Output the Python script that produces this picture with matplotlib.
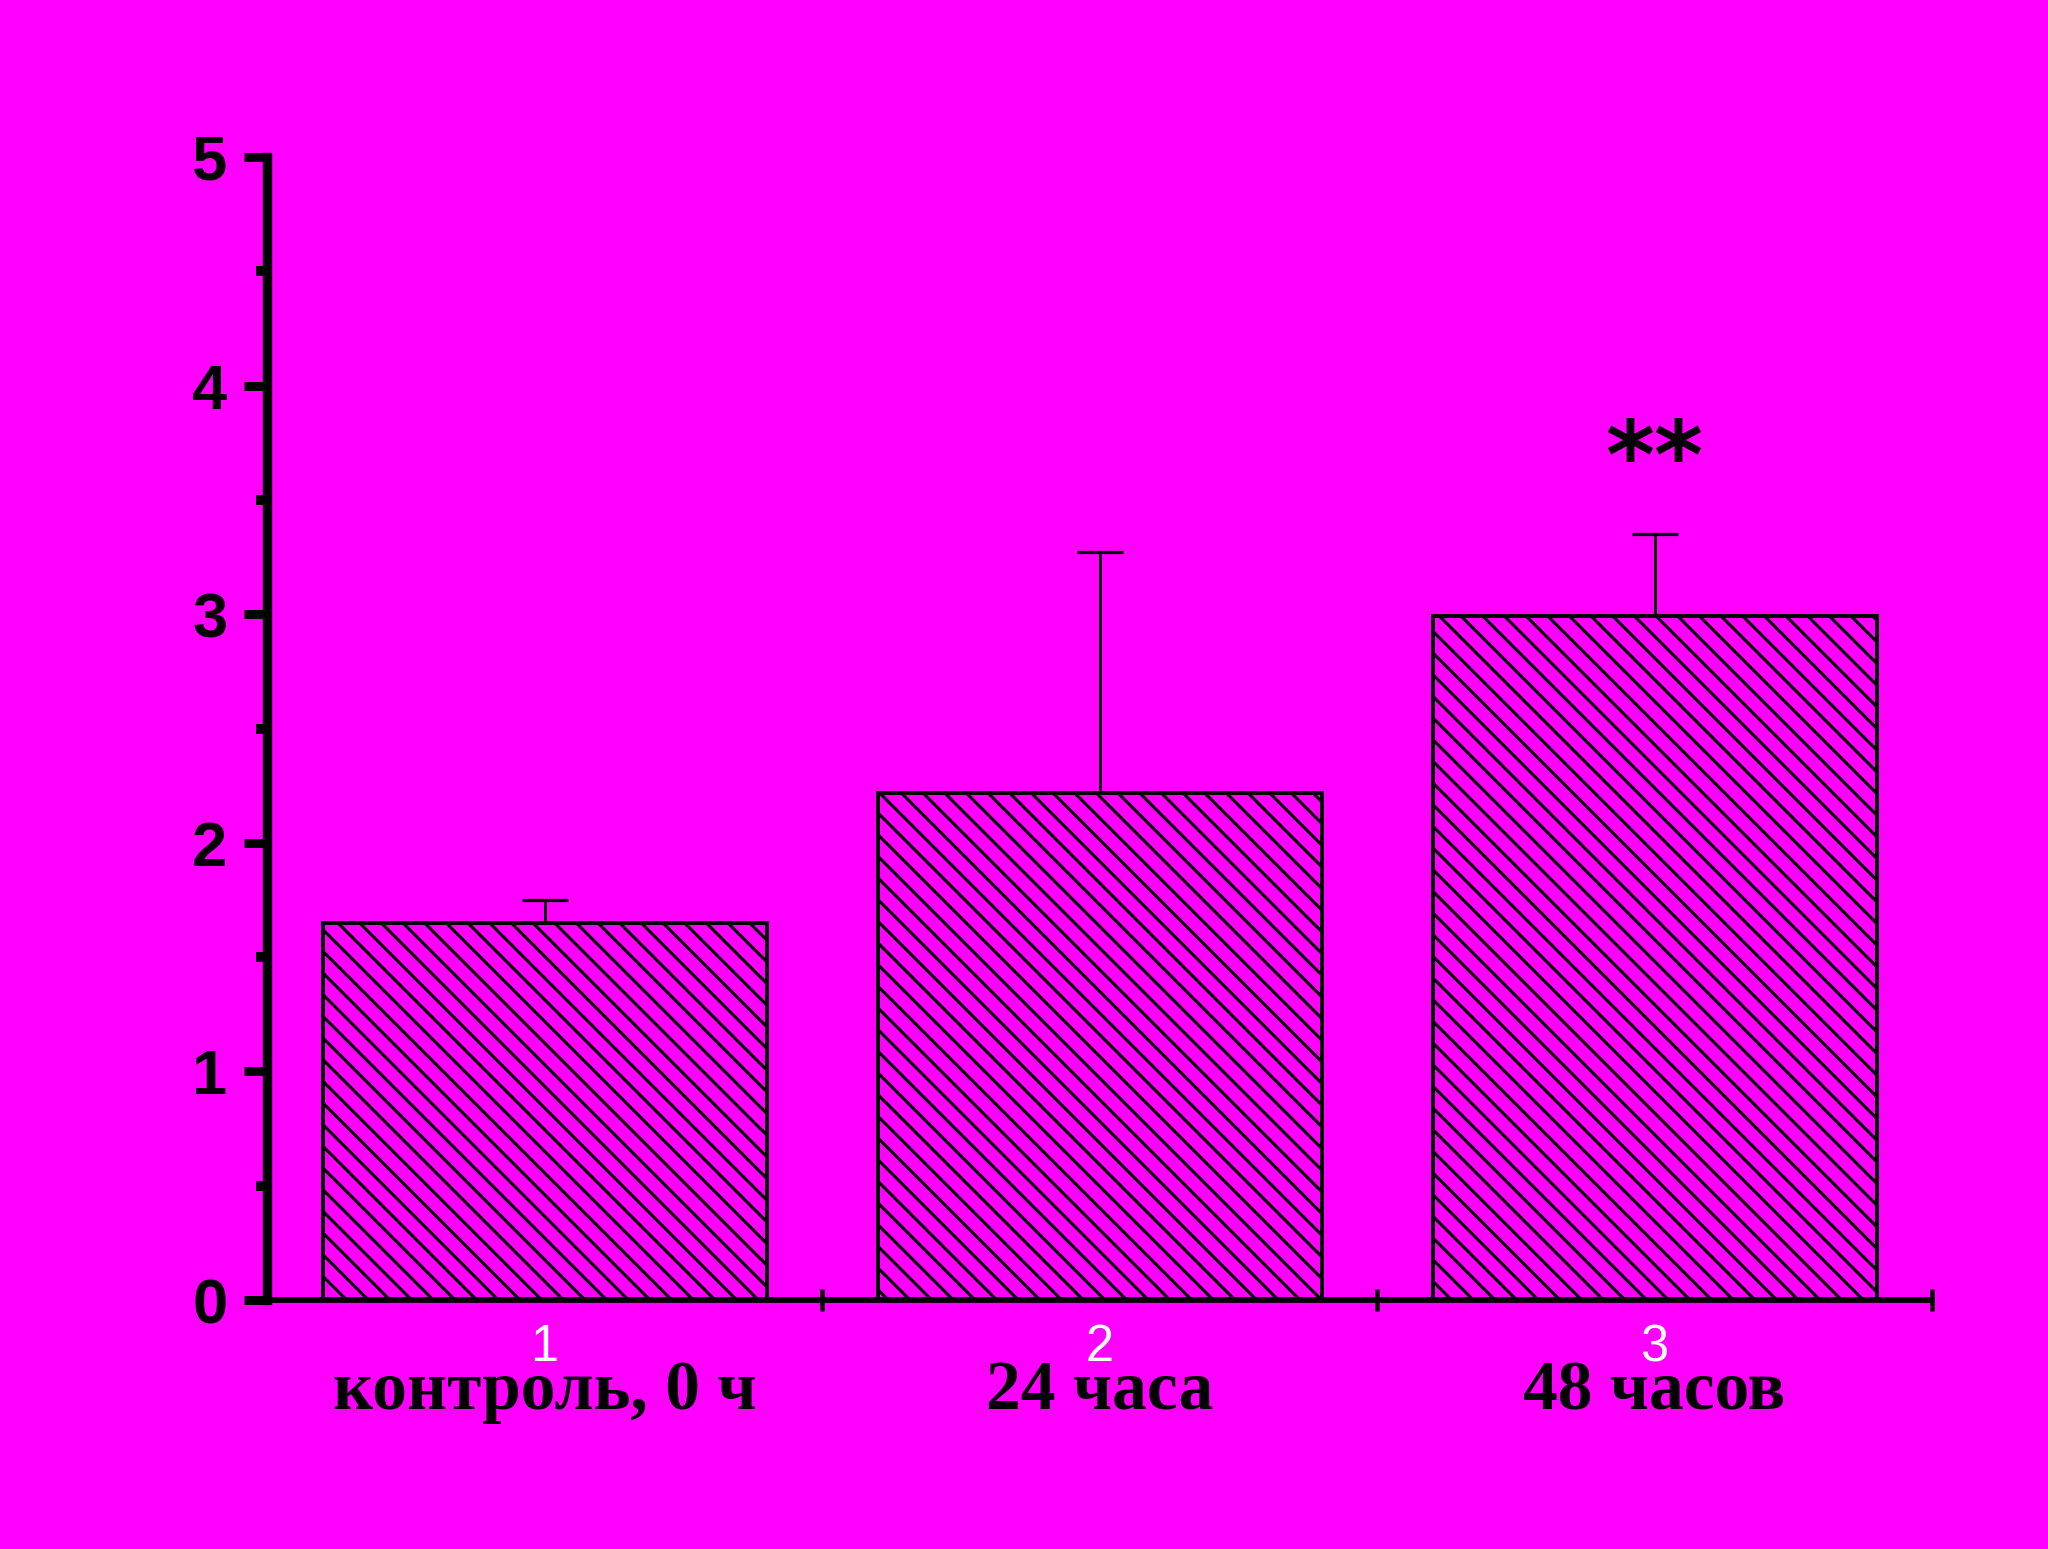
import matplotlib
matplotlib.use("Agg")
import matplotlib.pyplot as plt
import matplotlib.transforms as mtransforms
import numpy as np

# Data
groups = ["1", "2", "3"]
group_names = ["контроль, 0 ч", "24 часа", "48 часов"]
means = [1.65, 2.22, 2.99]
errors_up = [0.10, 1.05, 0.36]
significance = ["", "", "**"]
y_ticks = [0, 1, 2, 3, 4, 5]

BG = "#FF00FF"
DPI = 130
plt.rcParams["hatch.linewidth"] = 1.7
plt.rcParams["hatch.color"] = "black"

fig = plt.figure(figsize=(2048 / DPI, 1549 / DPI), dpi=DPI, facecolor=BG)
ax = fig.add_axes([267 / 2048, 1 - 1300 / 1549, (1932 - 267) / 2048, (1300 - 157) / 1549])
ax.set_facecolor(BG)

x = np.arange(1, len(means) + 1)
ax.bar(x, means, width=0.8, facecolor=BG, edgecolor="black", linewidth=2.2,
       hatch="\\\\", zorder=2)
ax.errorbar(x, means, yerr=[np.zeros(len(means)), errors_up], fmt="none",
            ecolor="black", elinewidth=1.6, capsize=13, capthick=1.8, zorder=1)

ax.set_xlim(0.5, 3.5)
ax.set_ylim(0, 5)

for s in ["top", "right"]:
    ax.spines[s].set_visible(False)
ax.spines["left"].set_linewidth(5.2)
ax.spines["bottom"].set_linewidth(3.2)
ax.spines["left"].set_zorder(3)
ax.spines["bottom"].set_zorder(3)

# y ticks
ax.set_yticks(y_ticks)
ax.set_yticks(np.arange(0.5, 5, 1.0), minor=True)
ax.set_yticklabels([str(t) for t in y_ticks], fontfamily="Liberation Sans",
                   fontweight="bold", fontsize=35)
ax.tick_params(axis="y", which="major", direction="out", length=13, width=5,
               pad=9, colors="black")
ax.tick_params(axis="y", which="minor", direction="out", length=6, width=5.5,
               colors="black")

# x ticks: separators at 1.5, 2.5, 3.5; labels at centres
ax.set_xticks([1.5, 2.5, 3.5])
ax.set_xticklabels([])
ax.tick_params(axis="x", which="major", direction="inout", length=12, width=2.5,
               colors="black")
ax.set_xticks(x, minor=True)
ax.set_xticklabels(groups, minor=True, fontfamily="Liberation Sans", fontsize=28,
                   color="white")
ax.tick_params(axis="x", which="minor", length=0, pad=13, labelcolor="white")

trans = mtransforms.blended_transform_factory(ax.transData, ax.transAxes)
for xi, name in zip(x, group_names):
    ax.text(xi, -0.0954, name, transform=trans, ha="center", va="baseline",
            fontfamily="Liberation Serif", fontweight="bold", fontsize=38.5,
            color="black")

for xi, m, e, sig in zip(x, means, errors_up, significance):
    if sig:
        ax.text(xi, 3.55, sig, ha="center", va="baseline",
                fontfamily="DejaVu Sans", fontweight="bold", fontsize=52,
                color="black")

fig.savefig("out.png", dpi=DPI, facecolor=BG)
